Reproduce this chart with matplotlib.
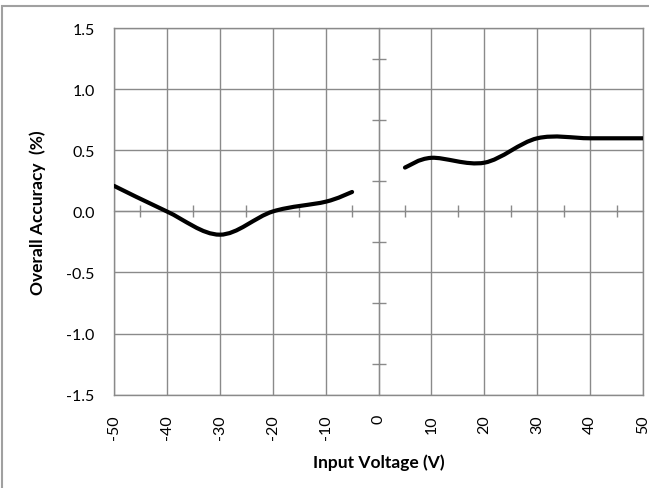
import matplotlib
matplotlib.use("Agg")
import matplotlib.pyplot as plt
from matplotlib.path import Path
from matplotlib.patches import PathPatch, Rectangle

plt.rcParams["font.family"] = ["Lato", "DejaVu Sans"]

# data
neg_v = [-50, -40, -30, -20, -10, -5]
neg_acc = [0.21, 0.0, -0.19, 0.0, 0.08, 0.16]
pos_v = [5, 10, 20, 30, 40, 50]
pos_acc = [0.36, 0.44, 0.40, 0.60, 0.60, 0.60]

x_ticks = list(range(-50, 51, 10))
y_ticks = [-1.5, -1.0, -0.5, 0.0, 0.5, 1.0, 1.5]
x_minor = list(range(-45, 50, 10))
y_minor = [-1.25, -0.75, -0.25, 0.25, 0.75, 1.25]

GRID = "#8a8a8a"


def smooth_path(xs, ys):
    """Excel-like smoothed line: Catmull-Rom segments as cubic Beziers."""
    pts = list(zip(xs, ys))
    verts = [pts[0]]
    codes = [Path.MOVETO]
    n = len(pts)
    for i in range(n - 1):
        p_prev = pts[i - 1] if i > 0 else pts[i]
        p0, p1 = pts[i], pts[i + 1]
        p_next = pts[i + 2] if i + 2 < n else pts[i + 1]
        c1 = (p0[0] + (p1[0] - p_prev[0]) / 6, p0[1] + (p1[1] - p_prev[1]) / 6)
        c2 = (p1[0] - (p_next[0] - p0[0]) / 6, p1[1] - (p_next[1] - p0[1]) / 6)
        verts += [c1, c2, p1]
        codes += [Path.CURVE4] * 3
    return Path(verts, codes)


fig = plt.figure(figsize=(6.49, 4.89), dpi=100)
ax = fig.add_axes([0.1757, 0.1912, 0.8151, 0.7485])

for xs, ys in [(neg_v, neg_acc), (pos_v, pos_acc)]:
    ax.add_patch(PathPatch(smooth_path(xs, ys), facecolor="none", edgecolor="black",
                           linewidth=3.0, capstyle="round", joinstyle="round", zorder=4))

ax.set_xlim(-50, 50)
ax.set_ylim(-1.5, 1.5)
ax.set_xticks(x_ticks)
ax.set_xticklabels([str(v) for v in x_ticks], rotation=90)
ax.set_yticks(y_ticks)
ax.set_yticklabels([f"{v:.1f}" for v in y_ticks])
ax.tick_params(axis="both", length=0, labelsize=11.5, colors="black")
ax.tick_params(axis="x", pad=14)
ax.tick_params(axis="y", pad=14)
ax.grid(True, color=GRID, linewidth=1.0)
ax.set_axisbelow(True)
for sp in ax.spines.values():
    sp.set_color(GRID)
    sp.set_linewidth(1.0)

# zero-crossing axes with small crossing ticks
sy = ax.secondary_yaxis(0.5)
sy.set_yticks(y_minor)
sy.set_yticklabels([])
sy.tick_params(direction="inout", length=10, color=GRID, width=1.0)
sy.spines["left"].set_color(GRID)
sx = ax.secondary_xaxis(0.5)
sx.set_xticks(x_minor)
sx.set_xticklabels([])
sx.tick_params(direction="inout", length=8, color=GRID, width=1.0)
sx.spines["bottom"].set_color(GRID)

ax.set_xlabel("Input Voltage (V)", fontsize=12.5, fontweight="bold")
ax.xaxis.set_label_coords(0.5, -0.184)
ax.xaxis.label.set_va("center")
ax.set_ylabel("Overall Accuracy  (%)", fontsize=12.5, fontweight="bold")
ax.yaxis.set_label_coords(-0.1437, 0.5)
ax.yaxis.label.set_va("center")

# outer chart border (top and left visible)
fig.patches.append(Rectangle((1.5 / 649, -0.05), 1.2, 1.05 - 6.5 / 489,
                             transform=fig.transFigure, fill=False,
                             edgecolor="#a0a0a0", linewidth=1.5))

fig.savefig("out.png", dpi=100)
